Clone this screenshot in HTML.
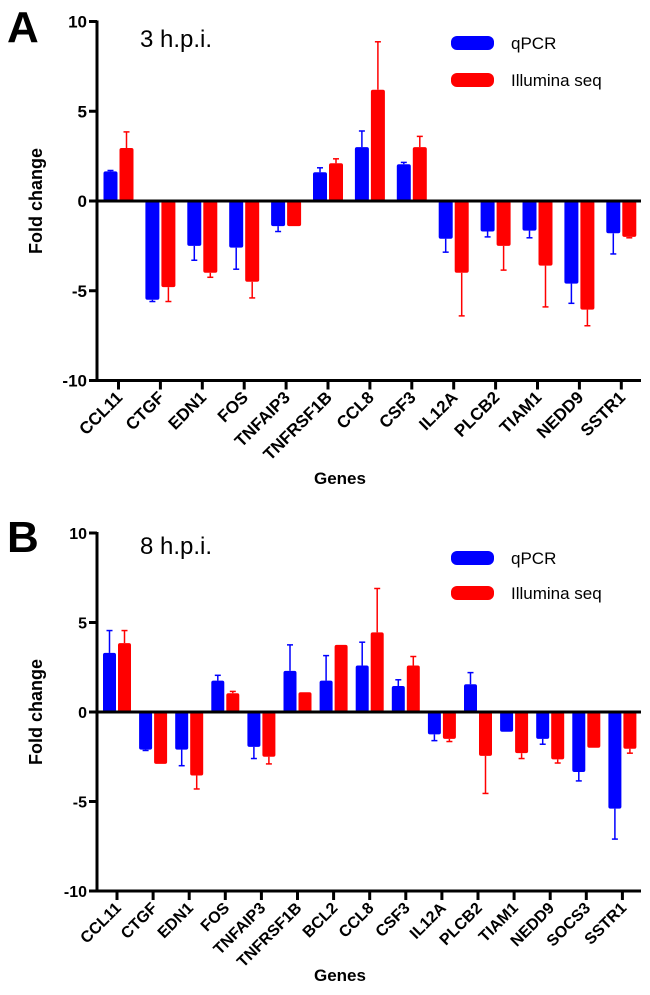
<!DOCTYPE html>
<html><head><meta charset="utf-8">
<style>
html,body{margin:0;padding:0;background:#fff;}
svg{display:block;font-family:"Liberation Sans",Arial,sans-serif;}
</style></head>
<body>
<svg id="fig" width="650" height="995" viewBox="0 0 650 995" xmlns="http://www.w3.org/2000/svg"></svg>
<script>
const genesA = ["CCL11","CTGF","EDN1","FOS","TNFAIP3","TNFRSF1B","CCL8","CSF3","IL12A","PLCB2","TIAM1","NEDD9","SSTR1"];
const qpcrA = [1.65,-5.5,-2.5,-2.6,-1.4,1.6,3.0,2.05,-2.1,-1.7,-1.65,-4.6,-1.8];
const qpcrErrA = [1.7,-5.6,-3.3,-3.8,-1.7,1.85,3.9,2.15,-2.85,-2.0,-2.05,-5.7,-2.95];
const seqA = [2.95,-4.8,-4.0,-4.5,-1.4,2.1,6.2,3.0,-4.0,-2.5,-3.6,-6.05,-2.0];
const seqErrA = [3.85,-5.6,-4.25,-5.4,-1.4,2.35,8.87,3.6,-6.4,-3.85,-5.9,-6.95,-2.05];

const genesB = ["CCL11","CTGF","EDN1","FOS","TNFAIP3","TNFRSF1B","BCL2","CCL8","CSF3","IL12A","PLCB2","TIAM1","NEDD9","SOCS3","SSTR1"];
const qpcrB = [3.3,-2.1,-2.1,1.75,-1.95,2.3,1.75,2.6,1.45,-1.25,1.55,-1.1,-1.5,-3.35,-5.4];
const qpcrErrB = [4.55,-2.15,-3.0,2.05,-2.6,3.75,3.15,3.9,1.8,-1.6,2.2,-1.1,-1.8,-3.85,-7.1];
const seqB = [3.85,-2.9,-3.55,1.05,-2.5,1.1,3.75,4.45,2.6,-1.5,-2.45,-2.3,-2.65,-2.0,-2.05];
const seqErrB = [4.55,-2.9,-4.3,1.15,-2.9,1.1,3.75,6.9,3.1,-1.65,-4.55,-2.6,-2.85,-2.0,-2.3];

const yTicks = [10,5,0,-5,-10];
const NS = "http://www.w3.org/2000/svg";
const svg = document.getElementById('fig');
function mk(tag, attrs, parent){
  const e = document.createElementNS(NS, tag);
  for (const k in attrs) e.setAttribute(k, attrs[k]);
  (parent||svg).appendChild(e);
  return e;
}

function panel(cfg){
  const g = mk('g', {});
  
  
  const y = v => cfg.y0 - v * cfg.unit;
  const x = i => cfg.firstTick + i * cfg.step;
  const L = mk('text', {x:7, y:cfg.letterY, 'font-size':44, 'font-weight':'bold'}, g);
  L.textContent = cfg.letter;
  
  
  const T = mk('text', {x:140, y:cfg.titleY, 'font-size':24}, g);
  T.textContent = cfg.title;
  
  
  const ya = mk('line', {x1:cfg.axX, x2:cfg.axX, y1:y(10)-1, y2:y(-10)+1.5, stroke:'#000', 'stroke-width':3}, g);
  
  
  yTicks.forEach(t => {
    const tk = mk('line', {x1:cfg.axX-8, x2:cfg.axX, y1:y(t), y2:y(t), stroke:'#000', 'stroke-width':3}, g);
    
    
    const tl = mk('text', {x:cfg.axX-10, y:y(t)+6, 'font-size':cfg.tickFont, 'font-weight':'bold', 'text-anchor':'end'}, g);
    tl.textContent = String(t);
    
    
  });
  const yt = mk('text', {x:0, y:0, 'font-size':18, 'font-weight':'bold', 'text-anchor':'middle', transform:`translate(42,${y(0)}) rotate(-90)`}, g);
  yt.textContent = 'Fold change';
  
  
  const xa = mk('line', {x1:cfg.axX, x2:641, y1:y(-10), y2:y(-10), stroke:'#000', 'stroke-width':3}, g);
  
  
  const bw = cfg.bw;
  cfg.genes.forEach((gn, i) => {
    const cx = x(i);
    [[cfg.q, cfg.qe, '#0000ff', cx - bw - 1, 'qpcr'], [cfg.s, cfg.se, '#ff0000', cx + 1, 'seq']].forEach(([vals, errs, col, bx, nm]) => {
      const v = vals[i], e = errs[i];
      const top = Math.min(y(v), y(0)), h = Math.abs(y(v) - y(0));
      const r = mk('rect', {x:bx, y:top, width:bw, height:h, fill:col, rx:2}, g);
      
      
      if (Math.abs(e) > Math.abs(v)) {
        const ex = bx + bw/2;
        const el = mk('line', {x1:ex, x2:ex, y1:y(v), y2:y(e), stroke:col, 'stroke-width':1.5}, g);
        
        
        const ec = mk('line', {x1:ex-3, x2:ex+3, y1:y(e), y2:y(e), stroke:col, 'stroke-width':1.5}, g);
        
        
      }
    });
    const tk = mk('line', {x1:cx, x2:cx, y1:y(-10), y2:y(-10)+9, stroke:'#000', 'stroke-width':3}, g);
    
    
    const lb = mk('text', {x:0, y:0, 'font-size':cfg.tickFont, 'font-weight':'bold', 'text-anchor':'end', transform:`translate(${cx+5},${y(-10)+18}) rotate(-45)`}, g);
    lb.textContent = gn;
    
    
  });
  const zl = mk('line', {x1:cfg.axX, x2:641, y1:y(0), y2:y(0), stroke:'#000', 'stroke-width':3}, g);
  
  
  const xt = mk('text', {x:340, y:cfg.genesY, 'font-size':17, 'font-weight':'bold', 'text-anchor':'middle'}, g);
  xt.textContent = 'Genes';
  
  
  [['qPCR','#0000ff',cfg.legY1,'legend-qpcr'],['Illumina seq','#ff0000',cfg.legY2,'legend-illumina']].forEach(([t,c,ly,nm]) => {
    const lg = mk('g', {}, g);
    
    
    mk('rect', {x:451, y:ly-7, width:43, height:14, rx:6, fill:c}, lg);
    const tx = mk('text', {x:511, y:ly+6, 'font-size':17}, lg);
    tx.textContent = t;
  });
}

panel({name:'panel-a-3hpi', letter:'A', letterY:42, title:'3 h.p.i.', titleY:47, axX:97, y0:201, unit:17.95,
  firstTick:118.5, step:41.9, bw:14, genes:genesA, q:qpcrA, qe:qpcrErrA, s:seqA, se:seqErrA,
  genesY:484, legY1:43, legY2:80, tickFont:17});
panel({name:'panel-b-8hpi', letter:'B', letterY:552, title:'8 h.p.i.', titleY:554, axX:97, y0:712, unit:17.9,
  firstTick:117, step:36.1, bw:13, genes:genesB, q:qpcrB, qe:qpcrErrB, s:seqB, se:seqErrB,
  genesY:981, legY1:558, legY2:593, tickFont:16});
</script>
</body></html>
